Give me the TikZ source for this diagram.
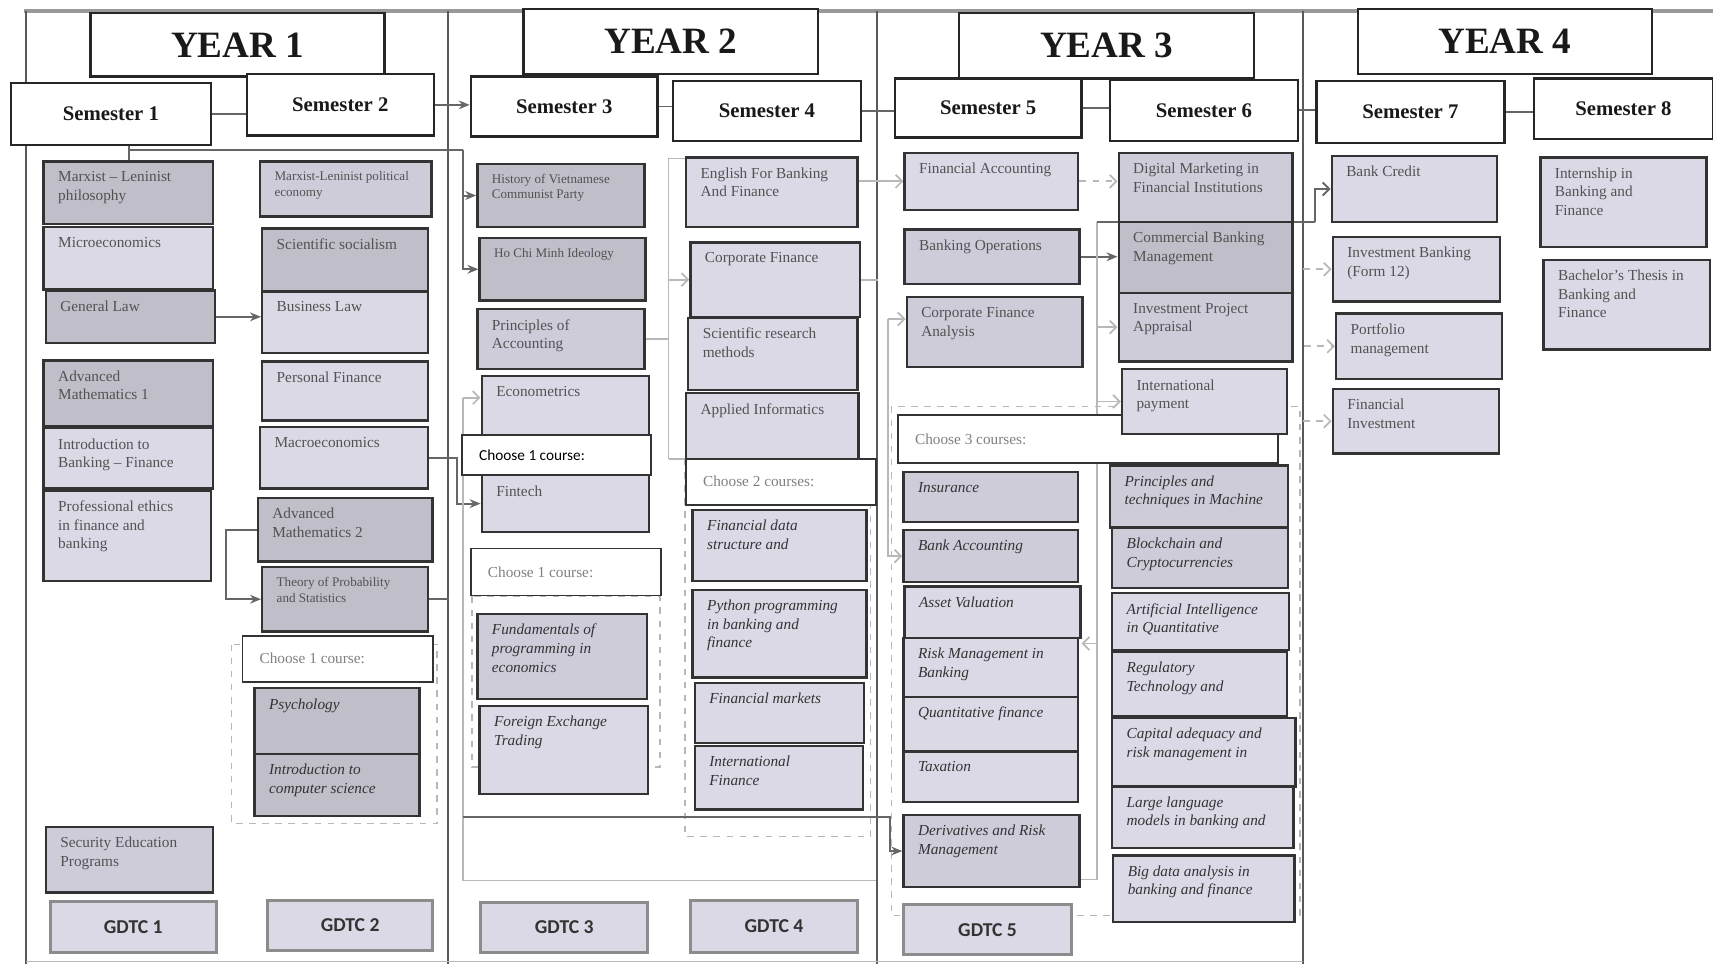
\documentclass[tikz,border=0pt]{standalone}
\usepackage{fontspec}
\setmainfont{Liberation Serif}
\newfontfamily\carlito{Carlito}
\usetikzlibrary{arrows.meta,calc}
\pgfdeclarelayer{bg}
\pgfsetlayers{bg,main}
\definecolor{cL}{RGB}{220,217,230}
\definecolor{cM}{RGB}{207,204,218}
\definecolor{cD}{RGB}{192,190,200}
% box with top-left text: [label opts]{style}{name}{x1}{y1}{x2}{y2}{text}
\newcommand\course[8][]{%
  \node[#2, minimum width={(#6-#4)*0.5pt}, minimum height={(#7-#5)*0.5pt}] (#3) at ({(#4+#6)/2},{(#5+#7)/2}) {};
  \node[lbl,#1] (#3-t) at ([xshift=7pt,yshift=-5pt]#3.north west) {#8};}
% box with centred text: {style}{name}{x1}{y1}{x2}{y2}{text}
\newcommand\cbox[7]{%
  \node[#1, minimum width={(#5-#3)*0.5pt}, minimum height={(#6-#4)*0.5pt}] (#2) at ({(#3+#5)/2},{(#4+#6)/2}) {#7};}
% choose box: [label opts]{name}{x1}{y1}{x2}{y2}{text}
\newcommand\chbox[7][]{%
  \node[choosebox, minimum width={(#5-#3)*0.5pt}, minimum height={(#6-#4)*0.5pt}] (#2) at ({(#3+#5)/2},{(#4+#6)/2}) {};
  \node[lbl, anchor=west, text=black!50, #1] (#2-t) at ([xshift=8pt]#2.west) {#7};}
\begin{document}
\begin{tikzpicture}[x=0.5pt,y=-0.5pt,
  yearbox/.style={draw=black!85, line width=1.1pt, fill=white, inner sep=0, font=\bfseries\fontsize{17}{17}\selectfont, text=black!90},
  sembox/.style={draw=black!85, line width=1.1pt, fill=white, inner sep=0, font=\bfseries\fontsize{9.5}{10}\selectfont, text=black!90},
  crsL/.style={draw=black!80, line width=1.1pt, fill=cL, inner sep=0},
  crsM/.style={draw=black!80, line width=1.1pt, fill=cM, inner sep=0},
  crsD/.style={draw=black!80, line width=1.1pt, fill=cD, inner sep=0},
  choosebox/.style={draw=black!80, line width=0.8pt, fill=white, inner sep=0},
  gdtc/.style={draw=black!45, line width=1.3pt, fill=cL, inner sep=0, font=\carlito\bfseries\fontsize{9}{9}\selectfont, text=black!80},
  lbl/.style={anchor=north west, inner sep=0, align=left, font=\fontsize{7}{8.5}\selectfont, text=black!68},
  ital/.style={font=\fontsize{7}{8.5}\selectfont\itshape, text=black!80},
  small/.style={font=\fontsize{6}{7.2}\selectfont},
  conn/.style={draw=black!60, line width=0.9pt},
  arr/.style={-{Stealth[length=5pt,width=4pt]}},
  faint/.style={draw=black!28, line width=0.8pt},
  farr/.style={-{Straight Barb[length=3pt,width=6pt]}},
  dbox/.style={draw=black!28, line width=0.6pt, dashed},
  frame/.style={draw=black!65, line width=1pt}
]
\useasboundingbox (0,0) rectangle (1568,882);

% ---------- headers ----------
\cbox{yearbox}{yr1}{83}{12}{352}{70}{YEAR 1}
\cbox{yearbox}{yr2}{479}{8}{749}{68}{YEAR 2}
\cbox{yearbox}{yr3}{878}{12}{1148}{72}{YEAR 3}
\cbox{yearbox}{yr4}{1243}{8}{1512}{68}{YEAR 4}

\cbox{sembox}{s1}{10}{76}{193}{133}{Semester 1}
\cbox{sembox}{s2}{226}{68}{397}{124}{Semester 2}
\cbox{sembox}{s3}{431}{70}{602}{125}{Semester 3}
\cbox{sembox}{s4}{616}{74}{788}{129}{Semester 4}
\cbox{sembox}{s5}{819}{72}{990}{126}{Semester 5}
\cbox{sembox}{s6}{1016}{73}{1188}{129}{Semester 6}
\cbox{sembox}{s7}{1205}{74}{1377}{131}{Semester 7}
\cbox{sembox}{s8}{1404}{72}{1568}{127}{Semester 8}

% ---------- Year 1, Semester 1 ----------
\course{crsD}{m1}{40}{148}{195}{205}{Marxist -- Leninist\\philosophy}
\course{crsL}{mic}{40}{208}{195}{265}{Microeconomics}
\course{crsD}{gl}{42}{266}{197}{314}{General Law}
\course{crsD}{am1}{40}{330}{195}{390}{Advanced\\Mathematics 1}
\course{crsL}{ibf}{40}{392}{195}{447}{Introduction to\\Banking -- Finance}
\course{crsL}{pe}{40}{449}{193}{532}{Professional ethics\\in finance and\\banking}
\course{crsM}{sec}{42}{757}{195}{817}{Security Education\\Programs}
\cbox{gdtc}{g1}{46}{825}{198}{872}{GDTC 1}

% ---------- Year 1, Semester 2 ----------
\course[small]{crsM}{mlp}{238}{148}{395}{198}{Marxist-Leninist political\\economy}
\course{crsD}{ss}{240}{209}{392}{267}{Scientific socialism}
\course{crsL}{bl}{240}{267}{392}{323}{Business Law}
\course{crsL}{pf}{240}{331}{392}{385}{Personal Finance}
\course{crsL}{mac}{238}{391}{392}{447}{Macroeconomics}
\course{crsD}{am2}{236}{456}{396}{514}{Advanced\\Mathematics 2}
\course[small]{crsD}{tps}{240}{519}{392}{578}{Theory of Probability\\and Statistics}
\chbox{ch1}{222}{582}{396}{624}{Choose 1 course:}
\course[ital]{crsD}{psy}{233}{630}{384}{690}{Psychology}
\course[ital]{crsD}{ics}{233}{690}{384}{747}{Introduction to\\computer science}
\cbox{gdtc}{g2}{245}{824}{396}{870}{GDTC 2}

% ---------- Year 2, Semester 3 ----------
\course[small]{crsD}{hvcp}{437}{150}{590}{208}{History of Vietnamese\\Communist Party}
\course[small]{crsD}{hcm}{439}{218}{591}{275}{Ho Chi Minh Ideology}
\course{crsM}{poa}{437}{283}{590}{338}{Principles of\\Accounting}
\course{crsL}{eco}{441}{344}{594}{412}{Econometrics}
\course{crsL}{fin}{441}{435}{594}{487}{Fintech}
\chbox[font=\carlito\fontsize{7}{8.5}\selectfont, text=black]{ch2}{423}{398}{596}{435}{Choose 1 course:}
\chbox{ch3}{431}{502}{605}{545}{Choose 1 course:}
\course[ital]{crsM}{fpe}{437}{562}{592}{640}{Fundamentals of\\programming in\\economics}
\course[ital]{crsL}{fet}{439}{646}{593}{727}{Foreign Exchange\\Trading}
\cbox{gdtc}{g3}{440}{826}{593}{872}{GDTC 3}

% ---------- Year 2, Semester 4 ----------
\course{crsL}{eng}{628}{144}{785}{208}{English For Banking\\And Finance}
\course{crsL}{cf}{632}{222}{787}{290}{Corporate Finance}
\course{crsL}{srm}{630}{291}{785}{357}{Scientific research\\methods}
\course{crsL}{ainf}{628}{360}{786}{425}{Applied Informatics}
\chbox{ch4}{628}{420}{802}{462}{Choose 2 courses:}
\course[ital]{crsL}{fds}{634}{467}{793}{532}{Financial data\\structure and}
\course[ital]{crsL}{py}{634}{540}{793}{620}{Python programming\\in banking and\\finance}
\course[ital]{crsL}{fm}{636}{625}{791}{680}{Financial markets}
\course[ital]{crsL}{intf}{636}{683}{790}{741}{International\\Finance}
\cbox{gdtc}{g4}{632}{824}{785}{872}{GDTC 4}

% ---------- Year 3, Semester 5 ----------
\course{crsL}{fa}{828}{140}{987}{192}{Financial Accounting}
\course{crsM}{bo}{828}{210}{988}{260}{Banking Operations}
\course{crsM}{cfa}{830}{272}{991}{336}{Corporate Finance\\Analysis}
\chbox{ch5}{822}{380}{1170}{424}{Choose 3 courses:}
\course[ital]{crsM}{ins}{827}{432}{987}{478}{Insurance}
\course[ital]{crsM}{ba}{827}{485}{987}{533}{Bank Accounting}
\course[ital]{crsL}{av}{828}{537}{989}{584}{Asset Valuation}
\course[ital]{crsL}{rmb}{827}{584}{987}{638}{Risk Management in\\Banking}
\course[ital]{crsL}{qf}{827}{638}{987}{688}{Quantitative finance}
\course[ital]{crsL}{tax}{827}{688}{987}{734}{Taxation}
\course[ital]{crsM}{drm}{827}{746}{988}{812}{Derivatives and Risk\\Management}
\cbox{gdtc}{g5}{827}{828}{981}{874}{GDTC 5}

% ---------- Year 3, Semester 6 ----------
\course{crsM}{dm}{1024}{140}{1183}{203}{Digital Marketing in\\Financial Institutions}
\course{crsD}{cbm}{1024}{203}{1183}{268}{Commercial Banking\\Management}
\course{crsM}{ipa}{1024}{268}{1183}{331}{Investment Project\\Appraisal}
\course{crsL}{ip}{1027}{338}{1178}{397}{International\\payment}
\course[ital]{crsM}{ptm}{1016}{426}{1179}{483}{Principles and\\techniques in Machine}
\course[ital]{crsM}{bcc}{1018}{483}{1179}{538}{Blockchain and\\Cryptocurrencies}
\course[ital]{crsL}{aiq}{1018}{543}{1180}{595}{Artificial Intelligence\\in Quantitative}
\course[ital]{crsL}{rt}{1018}{597}{1178}{656}{Regulatory\\Technology and}
\course[ital]{crsL}{cap}{1018}{657}{1186}{720}{Capital adequacy and\\risk management in}
\course[ital]{crsL}{llm}{1018}{720}{1184}{776}{Large language\\models in banking and}
\course[ital]{crsL}{bda}{1019}{783}{1185}{844}{Big data analysis in\\banking and finance}

% ---------- Year 4 ----------
\course{crsL}{bc}{1219}{143}{1370}{203}{Bank Credit}
\course{crsL}{ib}{1220}{217}{1373}{276}{Investment Banking\\(Form 12)}
\course{crsL}{pm}{1223}{287}{1375}{347}{Portfolio\\management}
\course{crsL}{fi}{1220}{356}{1372}{415}{Financial\\Investment}
\course{crsL}{int}{1410}{144}{1562}{226}{Internship in\\Banking and\\Finance}
\course{crsL}{bt}{1413}{238}{1565}{320}{Bachelor's Thesis in\\Banking and\\Finance}

% ---------- lines behind ----------
\coordinate (a1) at (118,137);
\coordinate (a2) at (424,137);
\coordinate (e1) at (424,364);
\coordinate (e2) at (424,806);
\coordinate (e3) at (802,806);
\coordinate (b1) at (418,419);
\coordinate (p1) at (612,145);
\coordinate (p2) at (612,420);
\coordinate (f1) at (424,748);
\coordinate (f2) at (815,748);
\coordinate (d1) at (813,292);
\coordinate (g1) at (1004,203);
\coordinate (g2) at (1004,805);
\coordinate (g3) at (1004,589);
\coordinate (h1) at (1204,203);

\begin{pgfonlayer}{bg}
  % frame
  \draw[draw=black!40, line width=1.5pt] (22,10) -- (1568,10);
  \draw[frame] (24,10) -- (24,882);
  \draw[frame] (410,10) -- (410,882);
  \draw[frame] (803,10) -- (803,882);
  \draw[frame] (1193,10) -- (1193,882);
  \draw[faint] (24,880) -- (1193,880);
  % dashed groups
  \draw[dbox] (212,590) rectangle (400,754);
  \draw[dbox] (432,546) rectangle (604,702);
  \draw[dbox] (627,420) rectangle (797,766);
  \draw[dbox] (816,372) rectangle (1190,838);
  % semester chain
  \draw[conn] (s1.east) -- (s1.east -| s2.west);
  \draw[conn,arr] (s2.east) -- (s2.east -| s3.west);
  \draw[conn] (s3.east) -- (s3.east -| s4.west);
  \draw[conn] (s4.east) -- (s4.east -| s5.west);
  \draw[conn] (s5.east) -- (s5.east -| s6.west);
  \draw[conn] (s6.east) -- (s6.east -| s7.west);
  \draw[conn] (s7.east) -- (s7.east -| s8.west);
  % year 1
  \draw[conn] (a1 |- s1.south) -- (a1 |- m1.north);
  \draw[conn] (a1) -- (a2);
  \draw[conn,arr] (a2) |- (hvcp.west);
  \draw[conn,arr] (a2) |- (hcm.west);
  \draw[conn,arr] (gl.east) -- (gl.east -| bl.west);
  \draw[conn,arr] (mac.east) -- (b1) |- (fin.west);
  \draw[conn,arr] (am2.west) -- ++(-28,0) |- (tps.west);
  \draw[conn] (tps.east) -- ++(18,0);
  % year 2
  \draw[faint,farr] (e1) -- (e1 -| eco.west);
  \draw[faint] (e1) -- (e2) -- (e3);
  \draw[faint] (poa.east) -- (poa.east -| p1);
  \draw[faint] (p1) -- (p2);
  \draw[faint] (p1) -- (p1 -| eng.west);
  \draw[faint,farr] (p1 |- cf.west) -- (cf.west);
  \draw[faint] (p2) -- (p2 -| ch4.west);
  \draw[faint,farr] (fa.west -| eng.east) -- (fa.west);
  \draw[faint] (cf.east) -- ++(16,0);
  \draw[conn,arr] (f1) -- (f2) |- (drm.west);
  % year 3
  \draw[faint,farr,dashed] (fa.east) -- (fa.east -| dm.west);
  \draw[conn,arr] (bo.east) -- (bo.east -| cbm.west);
  \draw[faint,farr] (d1) -- (d1 -| cfa.west);
  \draw[faint,farr] (d1) |- (ba.west);
  \draw[faint] (g1) -- (g2) -- (g2 -| drm.east);
  \draw[faint,farr] (g1 |- ipa.west) -- (ipa.west);
  \draw[faint,farr] (g1 |- ip.west) -- (ip.west);
  \draw[faint,farr] (g3) -- (g3 -| av.east);
  % year 3 -> 4
  \draw[conn] (g1) -- (h1);
  \draw[conn,farr] (h1) |- (bc.west);
  \draw[faint,farr,dashed] ([xshift=-13pt]ib.west) -- (ib.west);
  \draw[faint,farr,dashed] ([xshift=-14pt]pm.west) -- (pm.west);
  \draw[faint,farr,dashed] ([xshift=-13pt]fi.west) -- (fi.west);
\end{pgfonlayer}
\end{tikzpicture}
\end{document}
